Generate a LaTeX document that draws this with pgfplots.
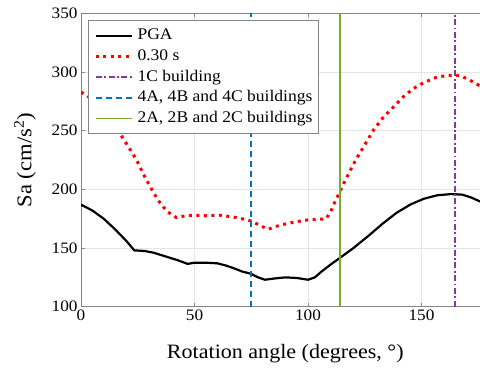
\documentclass[border=0pt]{standalone}
\usepackage{fontspec}
\setmainfont{Liberation Serif}[FakeStretch=1.08]
\usepackage{pgfplots}
\pgfplotsset{compat=1.18}
\definecolor{mblue}{rgb}{0,0.447,0.741}
\definecolor{mgreen}{rgb}{0.466,0.674,0.188}
\definecolor{mpurple}{rgb}{0.52,0.22,0.62}
\definecolor{axgray}{rgb}{0.52,0.52,0.52}
\definecolor{gridgray}{rgb}{0.9,0.9,0.9}
\begin{document}
\begin{tikzpicture}
\begin{axis}[
  at={(81bp,-306.7bp)}, anchor=south west,
  scale only axis, width=408.6bp, height=293.3bp,
  xmin=0, xmax=180, ymin=100, ymax=350,
  xtick={0,50,100,150}, ytick={100,150,200,250,300,350},
  grid=major, major grid style={gridgray, line width=0.7bp},
  axis line style={axgray, line width=0.9bp},
  tick style={axgray, line width=0.8bp},
  tick align=inside, major tick length=4bp,
  xtick pos=both, ytick pos=both,
  ticklabel style={font=\fontsize{16}{16}\selectfont},
  /pgf/number format/assume math mode=true,
  xlabel={Rotation angle (degrees, °)},
  ylabel={Sa (cm/s\textsuperscript{2})},
  every axis x label/.style={at={(axis description cs:0.5,-0.160)}, anchor=center, font=\fontsize{20.5}{20.5}\selectfont},
  every axis y label/.style={at={(axis description cs:-0.137,0.5)}, rotate=90, anchor=center, font=\fontsize{21}{21}\selectfont},
  legend cell align=left,
  legend style={at={(0.0179,0.9775)}, anchor=north west, draw=axgray, line width=0.9bp,
    fill=white, font=\fontsize{16.3}{16.3}\selectfont, inner xsep=5.5bp, inner ysep=7.5bp,
    nodes={inner sep=0pt, text height=12bp, text depth=4bp}, row sep=4.6bp, column sep=4.3bp},
  legend image code/.code={\draw[mark repeat=2,mark phase=2,#1] plot coordinates {(0bp,0bp) (18bp,0bp) (36bp,0bp)};},
]
\addplot[draw=black, line width=2.2bp, line join=round] coordinates {
(0,187) (5,182) (10,175) (15,166) (20,156) (23.5,148) (28,147.5) (32,146) (37,143) (42,140) (47,136.5) (50,137.5) (55,137.5) (60,137) (64,135) (67,133) (71,130) (75,128) (78,125) (81,123) (85,124) (90,125) (95,124.5) (100,123) (103,125) (106,130) (110,136) (114,141.5) (120,150) (127,161) (133,171) (139,180) (145,187) (151,192) (157,195) (163,196) (168,195.5) (172,193) (176,189.5) (180,186)
};
\addlegendentry{PGA}
\addplot[draw=red, line width=3bp, dash pattern=on 3bp off 4.5bp] coordinates {
(0,283) (4,278) (8,270) (12,260) (16,251) (20,239) (24.5,225) (28,211) (32,197) (35,188) (38,181) (42,176) (46,177.5) (50,178) (55,177.5) (61,178) (67,176.5) (72,174.5) (75,173) (79,169) (82.5,166) (86,168.5) (90,170.5) (95,172.5) (100,174) (105,174.5) (108,175) (110,181) (112,190) (114,198) (117,210) (121,225) (125,238) (129,251) (133,261) (137.5,270) (142,279) (146.5,286) (151,291) (156.5,295.5) (161,297) (165,297.5) (168,296) (171,293.5) (175,289) (180,283)
};
\addlegendentry{0.30 s}
\addplot[draw=mpurple, line width=1.8bp, dash pattern=on 6bp off 2.5bp on 1.8bp off 2.5bp] coordinates {(164.8,100) (164.8,350)};
\addlegendentry{1C building}
\addplot[draw=mblue, line width=1.6bp, dash pattern=on 6bp off 4bp] coordinates {(75,100) (75,350)};
\addlegendentry{4A, 4B and 4C buildings}
\addplot[draw=mgreen, line width=1.6bp] coordinates {(114,100) (114,350)};
\addlegendentry{2A, 2B and 2C buildings}
\end{axis}
\pgfresetboundingbox
\path[use as bounding box] (0bp,0bp) rectangle (480bp,-370bp);
\end{tikzpicture}
\end{document}
